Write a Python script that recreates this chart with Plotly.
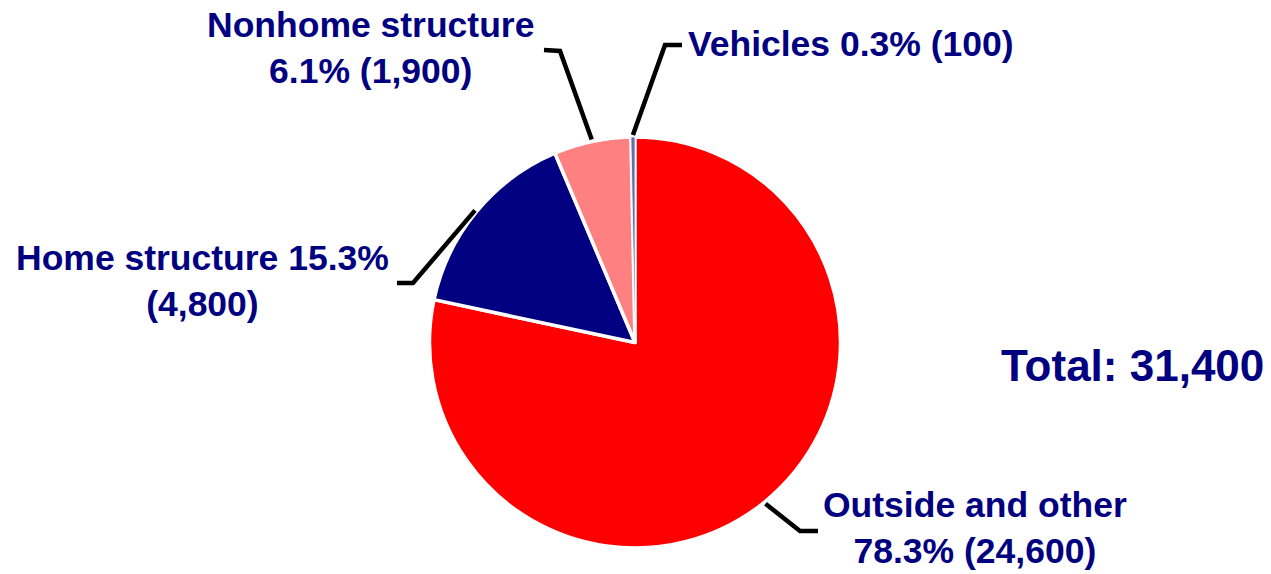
import math
import plotly.graph_objects as go

# ---- data ----
labels = ["Outside and other", "Home structure", "Nonhome structure", "Vehicles"]
values = [24600, 4800, 1900, 100]
colors = ["#ff0000", "#000080", "#ff8080", "#6a6aa8"]
# where each label's text wraps onto a second line
line_breaks = ["name|pct", "pct|count", "name|pct", "none"]

W, H = 1271, 574
CX, CY, R = 635, 342.5, 205.5
FONT = "Liberation Sans, Arial, sans-serif"
NAVY = "#000080"

total = sum(values)
pcts = [v / total * 100 for v in values]

fig = go.Figure(go.Pie(
    labels=labels, values=values, sort=False, direction="clockwise", rotation=0,
    marker=dict(colors=colors, line=dict(color="white", width=[3.5, 3.5, 3.5, 0.8])),
    textinfo="none", hoverinfo="label+value+percent", showlegend=False,
    domain=dict(x=[(CX - R) / W, (CX + R) / W], y=[1 - (CY + R) / H, 1 - (CY - R) / H]),
))

# label placement (pixel layout): text anchor, elbow and end of leader line
layout_spec = {
    "Outside and other": dict(tx=975, ty=528, xanchor="center", elbow=(800, 531), end=(818, 531)),
    "Home structure": dict(tx=202, ty=281, xanchor="center", elbow=(413, 283), end=(397, 283)),
    "Nonhome structure": dict(tx=371, ty=48, xanchor="center", elbow=(560, 51), end=(544, 50)),
    "Vehicles": dict(tx=686, ty=44, xanchor="left", elbow=(665, 45), end=(682, 45)),
}

def px(x, y):
    return x / W, 1 - y / H

annotations = []
shapes = []
cum = 0.0
for lab, val, pct, brk in zip(labels, values, pcts, line_breaks):
    mid = (cum + val / 2) / total * 2 * math.pi
    cum += val
    sx = CX + (R + 2) * math.sin(mid)
    sy = CY - (R + 2) * math.cos(mid)
    spec = layout_spec[lab]
    if brk == "name|pct":
        txt = f"{lab}<br>{pct:.1f}% ({val:,})"
    elif brk == "pct|count":
        txt = f"{lab} {pct:.1f}%<br>({val:,})"
    else:
        txt = f"{lab} {pct:.1f}% ({val:,})"
    x, y = px(spec["tx"], spec["ty"])
    annotations.append(dict(
        text=f"<b>{txt}</b>", x=x, y=y, xref="paper", yref="paper", showarrow=False,
        xanchor=spec["xanchor"], yanchor="middle", align="center",
        font=dict(family=FONT, size=35.5, color=NAVY),
    ))
    p0 = px(sx, sy)
    p1 = px(*spec["elbow"])
    p2 = px(*spec["end"])
    shapes.append(dict(
        type="path", xref="paper", yref="paper",
        path=f"M {p0[0]},{p0[1]} L {p1[0]},{p1[1]} L {p2[0]},{p2[1]}",
        line=dict(color="black", width=4.5),
    ))

tx, ty = px(1132, 365)
annotations.append(dict(
    text=f"<b>Total: {total:,}</b>", x=tx, y=ty, xref="paper", yref="paper",
    showarrow=False, xanchor="center", yanchor="middle",
    font=dict(family=FONT, size=44, color=NAVY),
))

fig.update_layout(
    width=W, height=H, margin=dict(l=0, r=0, t=0, b=0),
    paper_bgcolor="white", plot_bgcolor="white",
    annotations=annotations, shapes=shapes,
)

fig.write_html(
    "out.html",
    config={"displayModeBar": False},
    post_script="document.body.style.margin='0';document.body.style.overflow='hidden';",
)
